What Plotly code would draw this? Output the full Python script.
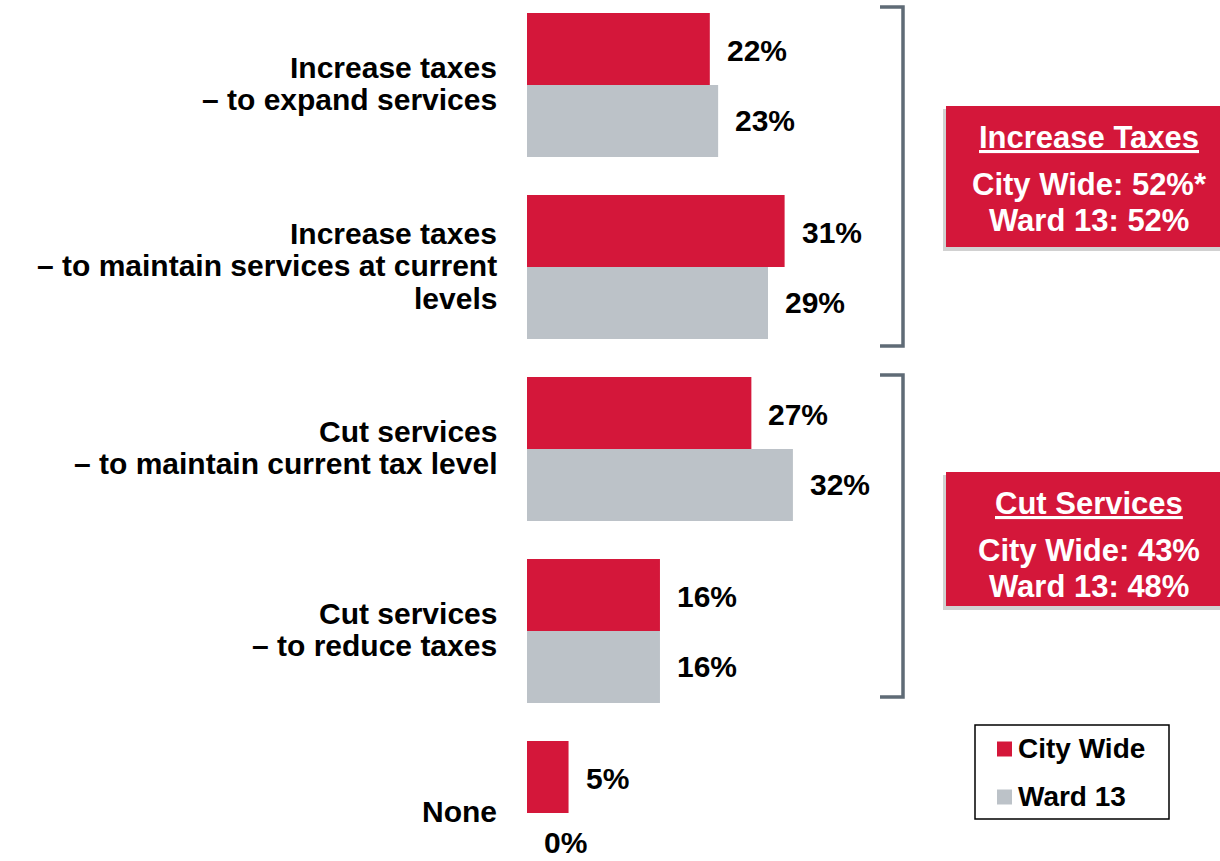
import plotly.graph_objects as go

# Survey responses: preferred trade-off between taxes and services
categories = [
    "Increase taxes<br>– to expand services",
    "Increase taxes<br>– to maintain services at current<br>levels",
    "Cut services<br>– to maintain current tax level",
    "Cut services<br>– to reduce taxes",
    "None",
]
city_wide = [22, 31, 27, 16, 5]
ward_13 = [23, 29, 32, 16, 0]
series_names = ["City Wide", "Ward 13"]

summary_titles = ["Increase Taxes", "Cut Services"]
summary_city = ["City Wide: 52%*", "City Wide: 43%"]
summary_ward = ["Ward 13: 52%", "Ward 13: 48%"]

RED = "#D4173A"
GRAY = "#BCC2C8"
BRACKET = "#5F6B76"
FONT = "Liberation Sans, Arial, sans-serif"

W, H = 1220, 861
ML, MR, MT, MB = 527, 0, 0, 0
PX_PER_PCT = 8.31
PX_PER_CAT = 182.0
FIRST_CAT_PX = 85.0
LINE_PX = 32.5

plot_w = W - ML - MR
plot_h = H - MT - MB
x_max = plot_w / PX_PER_PCT
y_top = -(FIRST_CAT_PX - MT) / PX_PER_CAT
y_bot = y_top + plot_h / PX_PER_CAT


def px(xp):
    return (xp - ML) / plot_w


def py(yp):
    return 1 - (yp - MT) / plot_h


fig = go.Figure()
for name, vals, col in [(series_names[0], city_wide, RED), (series_names[1], ward_13, GRAY)]:
    fig.add_trace(go.Bar(
        y=categories, x=vals, orientation="h", name=name,
        marker=dict(color=col, line=dict(width=0)),
        showlegend=False, hoverinfo="skip",
    ))

annotations = []

# category labels, one annotation per line for tight line spacing
for cat in categories:
    lines = cat.split("<br>")
    n = len(lines)
    for k, line in enumerate(lines):
        annotations.append(dict(
            x=0, y=cat, xref="x", yref="y", text=line, showarrow=False,
            xanchor="right", yanchor="middle", xshift=-28,
            yshift=-(k - (n - 1) / 2) * LINE_PX + 1.5,
            font=dict(family=FONT, size=30, color="black", weight="bold"),
        ))

# value labels next to each bar, kept inside the canvas
for vals, shift in [(city_wide, 35), (ward_13, -35)]:
    for i, (cat, v) in enumerate(zip(categories, vals)):
        centre_px = FIRST_CAT_PX + i * PX_PER_CAT - shift
        s = shift + max(0, centre_px - (H - 19))
        annotations.append(dict(
            x=v, y=cat, xref="x", yref="y", text=f"{v}%", showarrow=False,
            xanchor="left", yanchor="middle", xshift=15, yshift=s,
            font=dict(family=FONT, size=30, color="black", weight="bold"),
        ))

shapes = []
# brackets grouping the tax and service options
for top, bot in [(7, 346), (375, 697)]:
    x0, x1 = 880, 903
    path = (f"M {px(x0)},{py(top)} L {px(x1)},{py(top)} "
            f"L {px(x1)},{py(bot)} L {px(x0)},{py(bot)}")
    shapes.append(dict(type="path", xref="paper", yref="paper", path=path,
                       line=dict(color=BRACKET, width=3.5)))

# summary boxes
boxes = [(106, 247), (472, 606)]
for i, (top, bot) in enumerate(boxes):
    shapes.append(dict(type="rect", xref="paper", yref="paper",
                       x0=px(943), x1=px(1222), y0=py(bot + 4), y1=py(top + 3),
                       fillcolor="rgba(0,0,0,0.18)", line=dict(width=0), layer="above"))
    shapes.append(dict(type="rect", xref="paper", yref="paper",
                       x0=px(946), x1=px(1222), y0=py(bot), y1=py(top),
                       fillcolor=RED, line=dict(width=0), layer="above"))
    cx = px(1089)
    for txt, yy in [(f"<u>{summary_titles[i]}</u>", top + 31),
                    (summary_city[i], top + 78),
                    (summary_ward[i], top + 114)]:
        annotations.append(dict(
            x=cx, y=py(yy), xref="paper", yref="paper", text=txt,
            showarrow=False, xanchor="center", yanchor="middle",
            font=dict(family=FONT, size=31, color="white", weight="bold"),
        ))

# legend box
shapes.append(dict(type="rect", xref="paper", yref="paper",
                   x0=px(975), x1=px(1169), y0=py(819), y1=py(725),
                   fillcolor="white", line=dict(color="black", width=1.5), layer="above"))
for name, col, yy in [(series_names[0], RED, 749), (series_names[1], GRAY, 797)]:
    shapes.append(dict(type="rect", xref="paper", yref="paper",
                       x0=px(997), x1=px(1012), y0=py(yy + 7.5), y1=py(yy - 7.5),
                       fillcolor=col, line=dict(width=0), layer="above"))
    annotations.append(dict(
        x=px(1016), y=py(yy - 1), xref="paper", yref="paper", text=name,
        showarrow=False, xanchor="left", yanchor="middle",
        font=dict(family=FONT, size=28, color="black", weight="bold"),
    ))

fig.update_layout(
    width=W, height=H,
    margin=dict(l=ML, r=MR, t=MT, b=MB, pad=0),
    paper_bgcolor="white", plot_bgcolor="white",
    barmode="group", bargap=38 / 182, bargroupgap=0,
    xaxis=dict(range=[0, x_max], visible=False, fixedrange=True),
    yaxis=dict(
        range=[y_bot, y_top], showgrid=False, zeroline=False, showline=False,
        ticks="", showticklabels=False, automargin=False,
    ),
    shapes=shapes, annotations=annotations,
)

fig.write_html("out.html")
